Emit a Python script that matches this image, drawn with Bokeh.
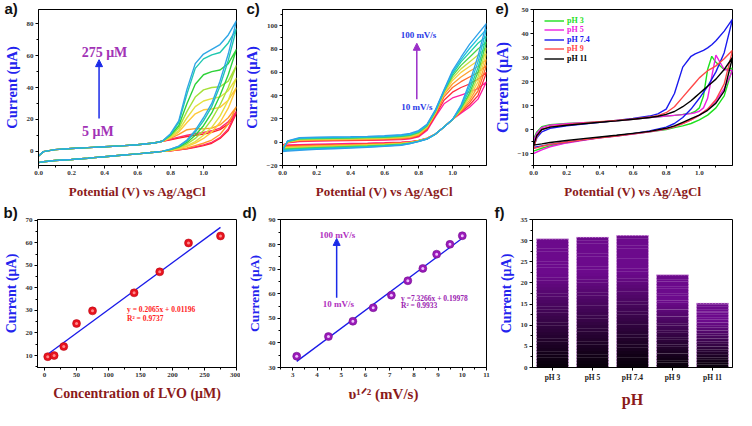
from bokeh.plotting import figure
from bokeh.layouts import row, column
from bokeh.models import (Range1d, FactorRange, SingleIntervalTicker, Label, Arrow,
                          NormalHead, Legend, LegendItem, PrintfTickFormatter)
from bokeh.embed import file_html
from bokeh.resources import INLINE

SERIF = "Liberation Serif"
SANS = "Liberation Sans"
XT_COL = "#8b1a1a"
YT_COL = "#2323ee"

# ---------------- panel a : CV vs concentration ----------------
a_conc = ["5", "15", "30", "50", "75", "140", "180", "225", "275"]
a_colors = ["#ff2020", "#ff2a6a", "#ff9a2a", "#ffc93a", "#e4e040", "#a6e03a",
            "#2ed23a", "#1fc8b0", "#2fa6e6"]
a_x_low = [0, 0.03, 0.1, 0.2, 0.3, 0.4, 0.5, 0.6, 0.7, 0.75]
a_x_high = [0.8, 0.85, 0.9, 0.95, 1.0, 1.05, 1.1, 1.15, 1.2]
a_fwd_low = [-3.0, -0.3, 1.0, 1.7, 2.2, 2.8, 3.3, 4.0, 5.1, 6.2]
a_rev_low = [-7.2, -6.6, -5.9, -5.2, -4.4, -3.5, -2.6, -1.7, -0.7, -0.1]
a_fwd_high = [
    [7.2, 8.2, 9.2, 10.0, 10.8, 11.8, 13.5, 17.0, 24.0],
    [7.5, 8.8, 10.0, 11.0, 11.8, 12.8, 14.5, 18.5, 25.0],
    [8.0, 10.5, 13.5, 14.2, 14.0, 14.5, 16.5, 21.0, 28.0],
    [8.5, 12.0, 18.0, 23.5, 26.0, 26.5, 27.5, 32.0, 40.0],
    [9.0, 13.0, 21.0, 28.0, 31.5, 33.0, 34.0, 38.0, 46.0],
    [9.5, 14.5, 25.0, 34.0, 38.5, 40.0, 40.5, 44.0, 54.0],
    [10.0, 16.0, 30.0, 42.0, 48.0, 50.0, 51.0, 55.0, 64.0],
    [10.5, 18.0, 36.0, 52.0, 58.0, 60.5, 62.0, 68.0, 77.0],
    [11.0, 19.0, 39.0, 55.0, 61.0, 64.0, 67.0, 73.0, 82.0],
]
a_rev_high = [
    [0.3, 0.8, 1.5, 2.5, 3.5, 5.0, 8.0, 13.0, 24.0],
    [0.3, 0.8, 1.6, 2.7, 4.0, 5.5, 8.5, 14.0, 25.0],
    [0.4, 1.0, 2.0, 3.5, 5.0, 7.0, 10.5, 17.0, 28.0],
    [0.5, 1.5, 3.0, 5.0, 8.0, 12.0, 18.0, 27.0, 40.0],
    [0.6, 1.8, 3.5, 6.0, 10.0, 15.0, 22.0, 32.0, 46.0],
    [0.8, 2.2, 4.5, 8.0, 13.0, 20.0, 29.0, 40.0, 54.0],
    [1.0, 2.5, 5.5, 10.0, 16.0, 24.0, 35.0, 48.0, 64.0],
    [1.2, 3.0, 6.5, 12.0, 19.0, 28.0, 41.0, 57.0, 77.0],
    [1.3, 3.2, 7.0, 13.0, 21.0, 30.0, 44.0, 61.0, 82.0],
]

# ---------------- panel b : calibration ----------------
b_conc = [5, 15, 30, 50, 75, 140, 180, 225, 275]
b_current = [9.5, 10.0, 14.0, 24.2, 29.8, 37.8, 47.1, 59.9, 63.0]
b_fit_x = [5, 275]
b_fit_y = [10.6, 66.8]

# ---------------- panel c : CV vs scan rate ----------------
c_rates = ["10", "20", "30", "40", "50", "60", "70", "80", "90", "100"]
c_colors = ["#ff1fa0", "#ff2a3a", "#ff6a2a", "#ffa030", "#f4d040", "#c4e040",
            "#4ad448", "#1fd0a0", "#1fc0e0", "#2fa0ea"]
c_x = [0, 0.03, 0.1, 0.2, 0.3, 0.4, 0.5, 0.6, 0.7, 0.75,
       0.8, 0.85, 0.9, 0.95, 1.0, 1.05, 1.1, 1.15, 1.2]
c_fwd = [
    [-2.5, -0.5, 0.5, 0.9, 1.1, 1.3, 1.5, 1.8, 2.3, 2.8, 4.5, 10, 22, 33, 38, 40.5, 43, 46, 52],
    [-3.1, -0.3, 0.9, 1.3, 1.5, 1.7, 1.9, 2.2, 2.8, 3.3, 5.2, 11, 23, 36, 43, 47, 50, 54, 60],
    [-3.7, -0.2, 1.3, 1.7, 1.9, 2.1, 2.3, 2.6, 3.2, 3.8, 5.8, 12, 24, 39, 47, 52, 56, 60, 66],
    [-4.3, 0.0, 1.7, 2.1, 2.3, 2.5, 2.7, 3.0, 3.6, 4.3, 6.4, 12.5, 25, 41, 50, 56, 61, 65, 71],
    [-4.9, 0.2, 2.0, 2.4, 2.7, 2.9, 3.1, 3.4, 4.1, 4.8, 7.0, 13, 25.5, 42, 53, 60, 65, 70, 76],
    [-5.5, 0.4, 2.4, 2.8, 3.0, 3.2, 3.5, 3.8, 4.5, 5.3, 7.6, 13.5, 26, 43, 55, 63, 69, 75, 81],
    [-6.1, 0.6, 2.8, 3.2, 3.4, 3.6, 3.9, 4.2, 5.0, 5.8, 8.2, 14, 26.5, 43.5, 57, 66, 73, 80, 86],
    [-6.7, 0.8, 3.1, 3.5, 3.8, 4.0, 4.3, 4.7, 5.5, 6.3, 8.8, 14.5, 27, 44, 58.5, 69, 77, 85, 91],
    [-7.3, 1.0, 3.5, 3.9, 4.2, 4.4, 4.7, 5.1, 6.0, 6.9, 9.4, 15, 27.5, 44.5, 60, 71, 80.5, 89, 97],
    [-8.0, 1.2, 3.9, 4.3, 4.6, 4.8, 5.1, 5.6, 6.5, 7.5, 10, 15.5, 28, 45, 61.5, 73, 84, 93, 102],
]
c_rev = [
    [-2.5, -2.3, -2.0, -1.7, -1.4, -1.1, -0.8, -0.4, 0.1, 0.5, 1.5, 3.5, 7, 13, 19.5, 25, 30, 37, 52],
    [-3.1, -2.9, -2.6, -2.2, -1.9, -1.6, -1.2, -0.8, -0.2, 0.3, 1.4, 3.4, 7, 13, 19.5, 26, 32, 40, 60],
    [-3.7, -3.5, -3.1, -2.7, -2.4, -2.0, -1.6, -1.2, -0.5, 0.1, 1.3, 3.3, 7, 13, 19.5, 26.5, 34, 44, 66],
    [-4.3, -4.1, -3.7, -3.2, -2.8, -2.4, -2.0, -1.5, -0.8, -0.1, 1.2, 3.2, 7, 13, 19.5, 27, 36, 48, 71],
    [-4.9, -4.6, -4.2, -3.7, -3.3, -2.9, -2.4, -1.9, -1.1, -0.3, 1.1, 3.1, 7, 13, 19.5, 28, 38, 52, 76],
    [-5.5, -5.2, -4.7, -4.2, -3.8, -3.3, -2.8, -2.2, -1.4, -0.5, 1.0, 3.0, 7, 13, 19.5, 28.5, 40, 56, 81],
    [-6.1, -5.8, -5.3, -4.7, -4.2, -3.7, -3.2, -2.6, -1.7, -0.7, 0.9, 2.9, 7, 13, 19.5, 29, 42, 60, 86],
    [-6.7, -6.4, -5.8, -5.2, -4.7, -4.2, -3.6, -2.9, -2.0, -0.9, 0.8, 2.8, 7, 13, 19.5, 30, 45, 64, 91],
    [-7.3, -7.0, -6.4, -5.7, -5.1, -4.6, -4.0, -3.3, -2.3, -1.1, 0.7, 2.7, 7, 13, 19.5, 31, 48, 69, 97],
    [-8.0, -7.6, -6.9, -6.2, -5.6, -5.0, -4.4, -3.6, -2.6, -1.3, 0.6, 2.6, 7, 13, 19.5, 32, 51, 74, 102],
]

# ---------------- panel d : Randles-Sevcik ----------------
d_sqrt_rate = [3.16, 4.47, 5.48, 6.32, 7.07, 7.75, 8.37, 8.94, 9.49, 10.0]
d_current = [34.6, 42.6, 48.8, 54.3, 59.4, 65.3, 70.3, 76.1, 80.1, 83.6]
d_fit_x = [3.16, 10.0]
d_fit_y = [32.5, 82.6]

# ---------------- panel e : CV vs pH ----------------
e_labels = ["pH 3", "pH 5", "pH 7.4", "pH 9", "pH 11"]
e_colors = ["#1ee01e", "#ee1ee0", "#1a1aee", "#ff4848", "#000000"]
e_x_fwd = [0, 0.02, 0.05, 0.1, 0.2, 0.3, 0.4, 0.5, 0.6, 0.7, 0.75, 0.8, 0.85, 0.9,
           0.95, 0.975, 1.0, 1.025, 1.05, 1.075, 1.1, 1.15, 1.2]
e_x_rev = [0, 0.05, 0.1, 0.2, 0.3, 0.4, 0.5, 0.6, 0.7, 0.8, 0.85, 0.9, 0.95, 1.0,
           1.05, 1.1, 1.15, 1.2]
e_fwd = [
    [-4, -1, 1.2, 2.0, 2.5, 2.8, 3.1, 3.6, 4.3, 5.0, 5.3, 5.6, 5.9, 6.3, 6.8, 7.5, 9, 14, 25, 30.5, 28, 25, 25.5],
    [-5, -1.5, 0.8, 1.8, 2.4, 2.8, 3.1, 3.6, 4.3, 5.0, 5.3, 5.6, 5.9, 6.2, 6.6, 7.0, 7.6, 9, 13, 22, 31, 25, 24.5],
    [-7.5, -3.5, -1.0, 0.5, 1.5, 2.3, 3.0, 3.8, 4.6, 5.6, 6.5, 8.5, 15, 26, 30.5, 31.5, 32.2, 33, 34, 35.3, 37, 41, 46],
    [-8, -3, 0, 1.2, 2.0, 2.6, 3.2, 3.8, 4.4, 5.2, 5.8, 7.0, 9.5, 13.5, 17.5, 19.5, 21.5, 23, 24.5, 25.5, 26.5, 29.5, 33],
    [-6.5, -2.5, 0, 1.0, 1.8, 2.4, 3.0, 3.6, 4.3, 5.0, 5.5, 6.3, 7.5, 9.5, 12, 13.5, 15, 16.5, 18, 19.5, 21, 25, 30],
]
e_rev = [
    [-9, -7.8, -6.8, -5.4, -4.3, -3.4, -2.6, -1.8, -1.0, 0, 0.8, 1.5, 2.5, 4, 6, 9, 14, 25.5],
    [-10, -8.5, -7.2, -5.6, -4.5, -3.5, -2.7, -1.9, -1.0, 0.2, 1.2, 2.5, 4, 6, 8.5, 12, 17, 24.5],
    [-7.5, -6.8, -6.2, -5.2, -4.3, -3.4, -2.6, -1.7, -0.6, 1.0, 2.5, 5, 8.5, 13, 18, 24, 32, 46],
    [-8, -7, -6.2, -5.2, -4.3, -3.5, -2.7, -1.8, -0.9, 0.3, 1.2, 2.5, 4, 6, 8.5, 12.5, 19, 33],
    [-6.5, -6, -5.4, -4.6, -3.8, -3.1, -2.4, -1.6, -0.8, 0.5, 1.5, 3, 4.5, 6, 8, 11, 16, 30],
]

# ---------------- panel f : peak current vs pH ----------------
f_cats = ["pH 3", "pH 5", "pH 7.4", "pH 9", "pH 11"]
f_current = [30.4, 30.8, 31.2, 21.9, 15.2]


def make_fig(w, h, xr, yr, bl, br, bt, bb):
    p = figure(width=w, height=h, x_range=xr, y_range=yr, output_backend="svg",
               toolbar_location=None, min_border_left=bl, min_border_right=br,
               min_border_top=bt, min_border_bottom=bb)
    p.outline_line_color = "black"
    p.outline_line_alpha = 1
    p.outline_line_width = 1
    p.xgrid.visible = False
    p.ygrid.visible = False
    p.background_fill_color = "white"
    p.border_fill_color = "white"
    return p


def style_axes(p, xlab, ylab, xfs, yfs, xint=None, yint=None, xfmt=None):
    for ax in (p.xaxis[0], p.yaxis[0]):
        ax.axis_line_color = "black"
        ax.major_tick_line_color = "black"
        ax.minor_tick_line_color = "black"
        ax.major_tick_in = 0
        ax.major_tick_out = 3
        ax.minor_tick_in = 0
        ax.minor_tick_out = 2
        ax.major_label_text_font = SERIF
        ax.major_label_text_font_style = "bold"
        ax.major_label_text_font_size = "7px"
        ax.major_label_text_color = "#333333"
        ax.major_label_standoff = 2
        ax.axis_label_text_font = SERIF
        ax.axis_label_text_font_style = "bold"
    p.xaxis[0].axis_label = xlab
    p.xaxis[0].axis_label_text_color = XT_COL
    p.xaxis[0].axis_label_text_font_size = xfs
    p.xaxis[0].axis_label_standoff = 6
    p.yaxis[0].axis_label = ylab
    p.yaxis[0].axis_label_text_color = YT_COL
    p.yaxis[0].axis_label_text_font_size = yfs
    p.yaxis[0].axis_label_standoff = 4
    if xint is not None:
        p.xaxis[0].ticker = SingleIntervalTicker(interval=xint, num_minor_ticks=2)
    if yint is not None:
        p.yaxis[0].ticker = SingleIntervalTicker(interval=yint, num_minor_ticks=2)
    if xfmt:
        p.xaxis[0].formatter = PrintfTickFormatter(format=xfmt)


def panel_label(p, text, offset, size_target):
    t = p.title
    t.text = text
    t.align = "left"
    t.offset = offset
    t.vertical_align = "top"
    t.text_font = SANS
    t.text_font_style = "bold"
    t.text_font_size = "15px"
    t.text_color = "#111111"
    try:
        t.standoff = size_target - 19
    except Exception:
        t.standoff = 0


def txt(p, x, y, s, color, size, align="center", baseline="middle"):
    p.add_layout(Label(x=x, y=y, text=s, text_font=SERIF, text_font_style="bold",
                       text_font_size=size, text_color=color, text_align=align,
                       text_baseline=baseline))


def arrow(p, x0, y0, x1, y1, color):
    p.add_layout(Arrow(x_start=x0, y_start=y0, x_end=x1, y_end=y1, line_color=color,
                       line_width=1.5,
                       end=NormalHead(size=7, fill_color=color, line_color=color)))


POT = "Potential (V) vs Ag/AgCl"
CUR = "Current (\u03bcA)"
TOP_B = 9

# ---- a
pa = make_fig(240, 205, Range1d(0, 1.2), Range1d(-9, 89), 34, 4, TOP_B, 40)
style_axes(pa, POT, CUR, "13px", "14.5px", xint=0.2, yint=20, xfmt="%.1f")
for i in range(len(a_conc)):
    xs = a_x_low + a_x_high + (a_x_low + a_x_high)[::-1]
    ys = a_fwd_low + a_fwd_high[i] + (a_rev_low + a_rev_high[i])[::-1]
    pa.line(xs, ys, line_color=a_colors[i], line_width=1.4)
arrow(pa, 0.367, 20.5, 0.367, 57.5, "#1a2ae8")
txt(pa, 0.40, 62, "275 \u03bcM", "#a233b6", "14px")
txt(pa, 0.36, 12.5, "5 \u03bcM", "#a233b6", "14px")
panel_label(pa, "a)", -34, 1)

# ---- c
pc = make_fig(250, 205, Range1d(0, 1.2), Range1d(-20, 114), 38, 4, TOP_B, 40)
style_axes(pc, POT, CUR, "13px", "14.5px", xint=0.2, yint=20, xfmt="%.1f")
for i in range(len(c_rates)):
    xs = c_x + c_x[::-1]
    ys = c_fwd[i] + c_rev[i][::-1]
    pc.line(xs, ys, line_color=c_colors[i], line_width=1.3)
arrow(pc, 0.79, 37, 0.79, 85, "#9a2ec8")
txt(pc, 0.80, 92.5, "100 mV/s", "#2a3ae6", "9px")
txt(pc, 0.79, 30.5, "10 mV/s", "#2a3ae6", "9px")
panel_label(pc, "c)", -36, 1)

# ---- e
pe = make_fig(246, 205, Range1d(0, 1.2), Range1d(-15, 50), 42, 4, TOP_B, 40)
style_axes(pe, POT, CUR, "13px", "16px", xint=0.2, yint=10, xfmt="%.1f")
e_r = []
for i in range(len(e_labels)):
    xs = e_x_fwd + e_x_rev[::-1]
    ys = e_fwd[i] + e_rev[i][::-1]
    e_r.append(pe.line(xs, ys, line_color=e_colors[i], line_width=1.4))
for i in range(len(e_labels)):
    lg = Legend(items=[LegendItem(label=e_labels[i], renderers=[e_r[i]])],
                location=(11, 140.5 - 9.5 * i), padding=0, margin=0, spacing=0,
                border_line_alpha=0, background_fill_alpha=0, glyph_height=9,
                glyph_width=20, label_height=9, label_standoff=3,
                label_text_font=SERIF, label_text_font_style="bold",
                label_text_font_size="8px", label_text_color=e_colors[i])
    pe.add_layout(lg)
panel_label(pe, "e)", -38, 1)

# ---- b
pb = make_fig(240, 205, Range1d(-11, 300), Range1d(4.7, 70.3), 34, 4, 14, 32)
style_axes(pb, "Concentration of LVO (\u03bcM)", CUR, "14px", "14px", xint=50, yint=10)
pb.line(b_fit_x, b_fit_y, line_color="#1a1ae8", line_width=1.3)
pb.scatter(b_conc, b_current, size=8, fill_color="#e8141e", line_color="#b00010", line_width=0.5)
pb.scatter(b_conc, b_current, size=3, fill_color="#ff8a8a", line_alpha=0)
txt(pb, 129, 30.3, "y = 0.2065x + 0.01196", "#ff2222", "7.5px", align="left")
txt(pb, 129, 26.3, "R\u00b2 = 0.9737", "#ff2222", "7.5px", align="left")
panel_label(pb, "b)", -34, 12)

# ---- d
pd_ = make_fig(250, 205, Range1d(2.49, 11), Range1d(30, 90.2), 40, 4, 14, 32)
style_axes(pd_, "\u03c5\u00b9\u141f\u00b2 (mV/s)", CUR, "15px", "13.5px", xint=1, yint=10)
pd_.line(d_fit_x, d_fit_y, line_color="#1a1ae8", line_width=1.3)
pd_.scatter(d_sqrt_rate, d_current, size=8, fill_color="#9a1ab8", line_color="#6a0a88", line_width=0.5)
pd_.scatter(d_sqrt_rate, d_current, size=3, fill_color="#f0c0ff", line_alpha=0)
arrow(pd_, 4.81, 58.4, 4.81, 82.5, "#1a2ae8")
txt(pd_, 4.84, 83.7, "100 mV/s", "#b030c0", "9px")
txt(pd_, 4.88, 55.9, "10 mV/s", "#b030c0", "9px")
txt(pd_, 7.47, 58.1, "y =7.3266x + 0.19978", "#9a22b0", "7.5px", align="left")
txt(pd_, 7.47, 55.1, "R\u00b2 = 0.9933", "#9a22b0", "7.5px", align="left")
panel_label(pd_, "d)", -38, 12)

# ---- f
pf = make_fig(246, 205, FactorRange(*f_cats), Range1d(0, 35), 42, 4, 14, 32)
style_axes(pf, "pH", CUR, "16px", "14px", yint=5)
pf.xaxis[0].major_label_text_font_size = "7.5px"
pf.xaxis[0].major_label_text_color = "#222222"
N = 40
sx, sb, st, sc = [], [], [], []
top_rgb = (108, 10, 140)
bot_rgb = (8, 0, 10)
for c, v in zip(f_cats, f_current):
    for j in range(N):
        t = min(1.0, ((j + 0.5) / N) / 0.72)
        t = t ** 1.1
        col = tuple(int(bot_rgb[k] + (top_rgb[k] - bot_rgb[k]) * t) for k in range(3))
        sx.append(c)
        sb.append(v * j / N)
        st.append(v * (j + 1) / N + v * 0.002)
        sc.append("#%02x%02x%02x" % col)
pf.vbar(x=sx, bottom=sb, top=st, width=0.8, fill_color=sc, line_alpha=0)
pf.vbar(x=f_cats, top=f_current, width=0.8, fill_alpha=0, line_color="#e0a8e8",
        line_width=0.8, line_dash="2 1")
panel_label(pf, "f)", -38, 12)

layout = column(row(pa, pc, pe), row(pb, pd_, pf))
open("out.html", "w").write(file_html(layout, INLINE))
